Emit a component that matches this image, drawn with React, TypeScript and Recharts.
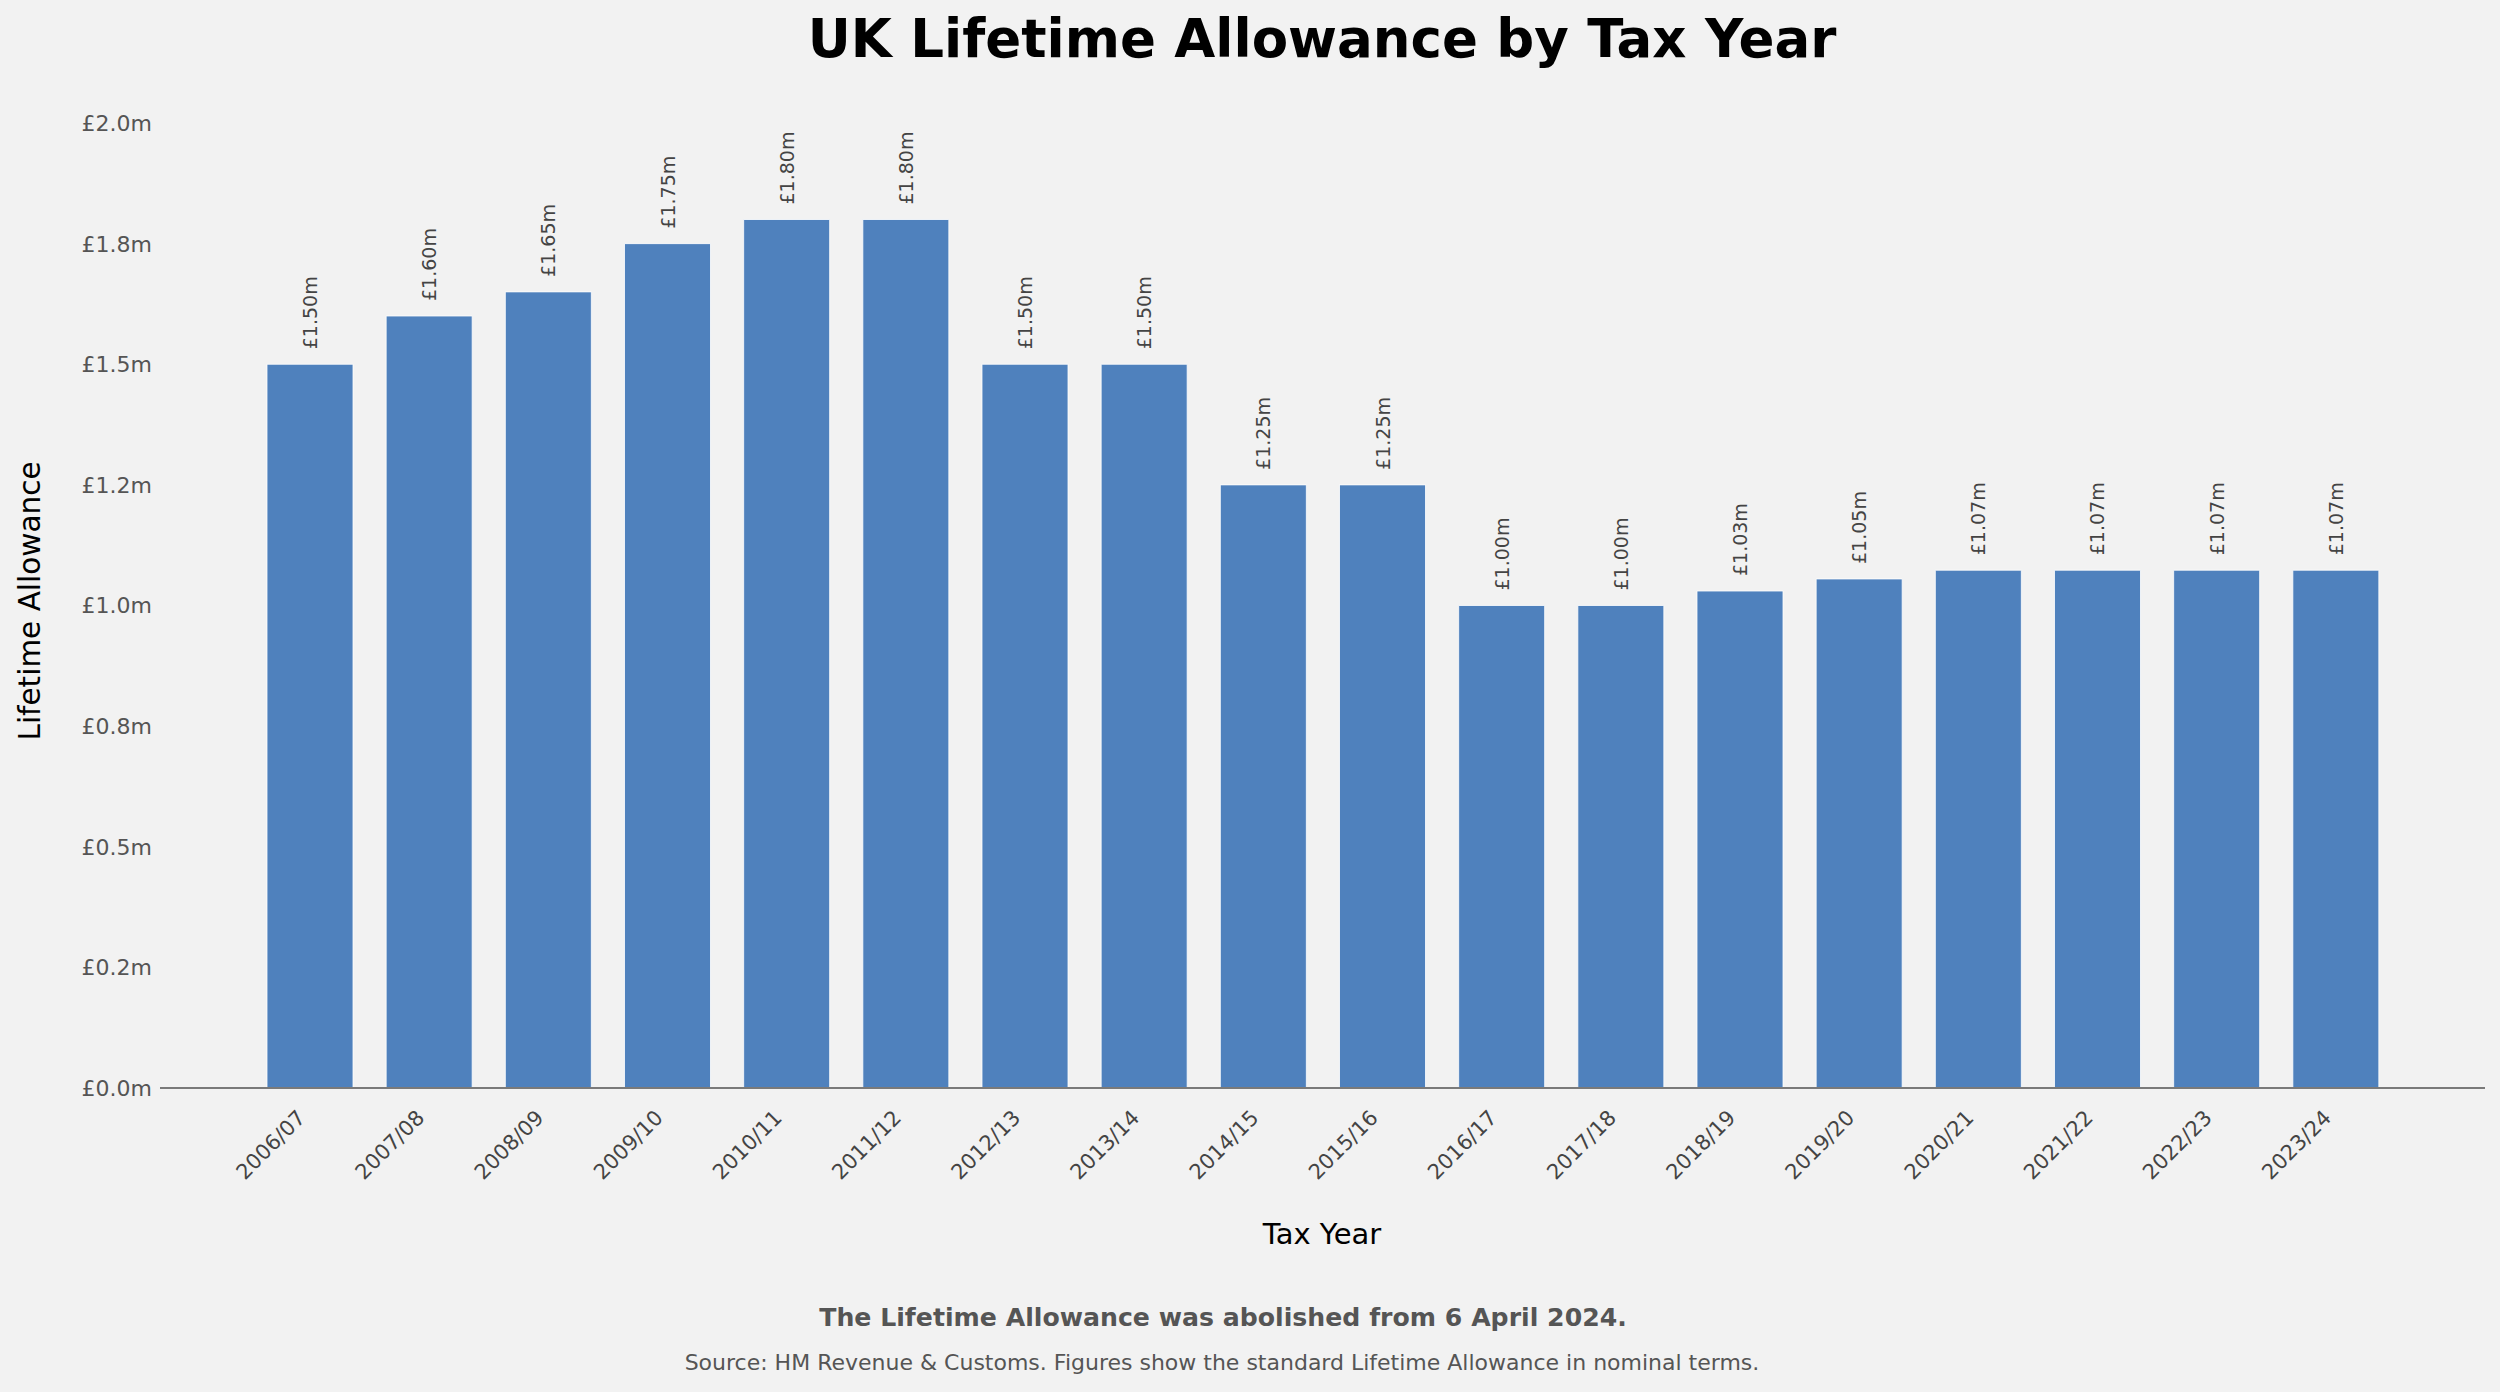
import React from "react";
import { BarChart, Bar, XAxis, YAxis, LabelList } from "recharts";

const taxYears = [
  "2006/07", "2007/08", "2008/09", "2009/10", "2010/11", "2011/12",
  "2012/13", "2013/14", "2014/15", "2015/16", "2016/17", "2017/18",
  "2018/19", "2019/20", "2020/21", "2021/22", "2022/23", "2023/24",
];
const allowanceMillions = [
  1.5, 1.6, 1.65, 1.75, 1.8, 1.8, 1.5, 1.5, 1.25, 1.25, 1.0, 1.0,
  1.03, 1.055, 1.0731, 1.0731, 1.0731, 1.0731,
];
const yTicks = [0, 0.25, 0.5, 0.75, 1.0, 1.25, 1.5, 1.75, 2.0];
const yTickLabels = ["£0.0m", "£0.2m", "£0.5m", "£0.8m", "£1.0m", "£1.2m", "£1.5m", "£1.8m", "£2.0m"];

const data = taxYears.map((year, i) => ({ year, value: allowanceMillions[i] }));

const FONT = "'DejaVu Sans', Verdana, sans-serif";
const W = 2500;
const H = 1392;

const XTick = (props: any) => {
  const { x, y, payload } = props;
  const ax = x - 3;
  const ay = y + 23;
  return (
    <text
      x={ax}
      y={ay}
      transform={`rotate(-45 ${ax} ${ay})`}
      textAnchor="end"
      fontFamily={FONT}
      fontSize={21}
      fill="#444"
    >
      {payload.value}
    </text>
  );
};

const YTick = (props: any) => {
  const { x, y, payload } = props;
  const idx = yTicks.indexOf(payload.value);
  return (
    <text x={x} y={y} dy="0.36em" textAnchor="end" fontFamily={FONT} fontSize={22} fill="#555">
      {idx >= 0 ? yTickLabels[idx] : ""}
    </text>
  );
};

const BarValueLabel = (props: any) => {
  const { x, y, width, value } = props;
  const lx = x + width / 2 + 7;
  const ly = y - 15;
  return (
    <text
      x={lx}
      y={ly}
      transform={`rotate(-90 ${lx} ${ly})`}
      textAnchor="start"
      fontFamily={FONT}
      fontSize={19}
      fill="#444"
    >
      {`£${Number(value).toFixed(2)}m`}
    </text>
  );
};

export default function App() {
  return (
    <div style={{ position: "fixed", left: 0, top: 0, width: W, height: H, background: "#f2f2f2" }}>
      <style>{`body{margin:0;background:#f2f2f2;}`}</style>
      <BarChart
        width={W}
        height={H}
        data={data}
        margin={{ top: 123, right: 15, bottom: 204, left: 80 }}
      >
        <XAxis
          dataKey="year"
          interval={0}
          padding={{ left: 90, right: 90 }}
          tickLine={false}
          axisLine={{ stroke: "#7a7a7a", strokeWidth: 1.8 }}
          tick={<XTick />}
          height={100}
        />
        <YAxis
          domain={[0, 2]}
          ticks={yTicks}
          width={80}
          axisLine={false}
          tickLine={false}
          tick={<YTick />}
          allowDataOverflow
        />
        <Bar
          dataKey="value"
          fill="#4f81bd"
          stroke="#ffffff"
          strokeWidth={0.8}
          barSize={86}
          isAnimationActive={false}
        >
          <LabelList dataKey="value" content={<BarValueLabel />} />
        </Bar>
      </BarChart>
      <svg
        width={W}
        height={H}
        style={{ position: "absolute", left: 0, top: 0, pointerEvents: "none" }}
      >
        <text x={1322} y={57} textAnchor="middle" fontFamily={FONT} fontWeight="bold" fontSize={53} fill="#000">
          UK Lifetime Allowance by Tax Year
        </text>
        <text
          x={40}
          y={601}
          transform="rotate(-90 40 601)"
          textAnchor="middle"
          fontFamily={FONT}
          fontSize={29.5}
          fill="#000"
        >
          Lifetime Allowance
        </text>
        <text x={1322} y={1244} textAnchor="middle" fontFamily={FONT} fontSize={29} fill="#000">
          Tax Year
        </text>
        <text x={1223} y={1326} textAnchor="middle" fontFamily={FONT} fontWeight="bold" fontSize={25.2} fill="#555">
          The Lifetime Allowance was abolished from 6 April 2024.
        </text>
        <text x={1222} y={1370} textAnchor="middle" fontFamily={FONT} fontSize={22} fill="#555">
          Source: HM Revenue &amp; Customs. Figures show the standard Lifetime Allowance in nominal terms.
        </text>
      </svg>
    </div>
  );
}
